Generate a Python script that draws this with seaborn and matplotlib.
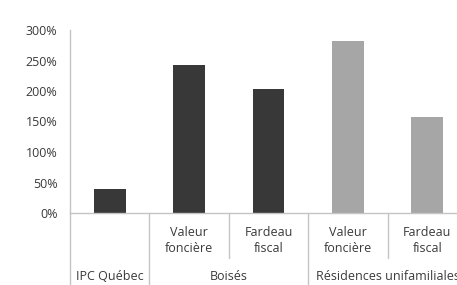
import matplotlib
matplotlib.use("Agg")
import matplotlib.pyplot as plt
import seaborn as sns
import pandas as pd
from matplotlib.ticker import FuncFormatter

# Data
slots = ["IPC Québec", "Boisés - Valeur foncière", "Boisés - Fardeau fiscal",
         "Résidences - Valeur foncière", "Résidences - Fardeau fiscal"]
values = [40, 243, 203, 282, 157]
sub_labels = ["", "Valeur\nfoncière", "Fardeau\nfiscal", "Valeur\nfoncière", "Fardeau\nfiscal"]
group_labels = ["IPC Québec", "Boisés", "Résidences unifamiliales"]
group_spans = [(0, 0), (1, 2), (3, 4)]
bar_colors = ["#383838", "#383838", "#383838", "#a6a6a6", "#a6a6a6"]
yticks = [0, 50, 100, 150, 200, 250, 300]

sns.set_style("white")
plt.rcParams['font.family'] = ['Open Sans', 'DejaVu Sans']

FS = 9
TC = "#3a3a3a"
W, H = 457, 285
fig = plt.figure(figsize=(W / 100, H / 100), dpi=100)
left, right, top, bottom = 70, 467, 30, 213
ax = fig.add_axes([left / W, (H - bottom) / H, (right - left) / W, (bottom - top) / H])

df = pd.DataFrame({"slot": slots, "value": values})
sns.barplot(data=df, x="slot", y="value", hue="slot", palette=bar_colors,
            width=0.4, legend=False, ax=ax, saturation=1, edgecolor="none")

ax.set_xlim(-0.5, 4.5)
ax.set_ylim(0, 300)
ax.set_yticks(yticks)
ax.yaxis.set_major_formatter(FuncFormatter(lambda v, p: f"{int(v)}%"))
ax.tick_params(axis="y", length=0, pad=9, labelsize=FS, labelcolor=TC)
ax.set_xticks([])
ax.set_xlabel("")
ax.set_ylabel("")
for s in ["top", "right"]:
    ax.spines[s].set_visible(False)
for s in ["left", "bottom"]:
    ax.spines[s].set_color("#c4c4c4")
    ax.spines[s].set_linewidth(1)

ah = bottom - top
full = -(H - bottom) / ah
short = -(258 - bottom) / ah
trans = ax.get_xaxis_transform()
for x, y0 in [(-0.5, full), (0.5, full), (1.5, short), (2.5, full), (3.5, short)]:
    ax.plot([x, x], [0, y0], transform=trans, color="#c4c4c4", lw=1, clip_on=False)

for i, lab in enumerate(sub_labels):
    if lab:
        ax.text(i, -(240.5 - bottom) / ah, lab, transform=trans, ha="center", va="center",
                fontsize=FS, color=TC, linespacing=1.2)
for lab, (a, b) in zip(group_labels, group_spans):
    ax.text((a + b) / 2, -(277 - bottom) / ah, lab, transform=trans, ha="center", va="center",
            fontsize=FS, color=TC)

fig.savefig("out.png", dpi=100)
